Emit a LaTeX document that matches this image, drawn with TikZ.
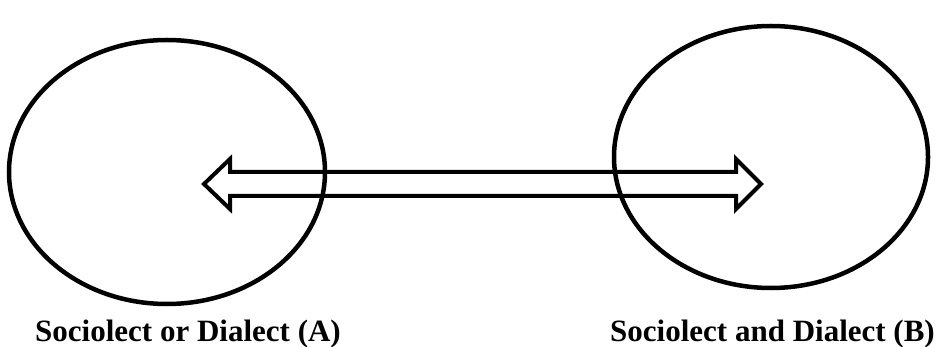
\documentclass[tikz,border=0pt]{standalone}
\usepackage{fontspec}
\setmainfont{Liberation Serif}
\newfontfamily\condbf{Liberation Serif Bold}
\usetikzlibrary{shapes.geometric}
\begin{document}
\begin{tikzpicture}[x=1pt,y=-1pt,
  oval/.style={draw, ellipse, line width=4.5pt, inner sep=0pt},
  label/.style={font=\condbf\fontsize{31}{31}\selectfont, inner sep=0pt, anchor=base west},
  dblarrow/.style={draw, line width=4pt, line join=miter}]
\useasboundingbox (0,0) rectangle (944,347);
\node[oval, minimum width=316pt, minimum height=264pt] (A) at (167,172) {};
\node[oval, minimum width=314pt, minimum height=262pt] (B) at (771,157) {};
\draw[dblarrow] (204,184) -- (230,159) -- (230,172) -- (736,172) -- (736,159)
  -- (761,184) -- (736,209) -- (736,196) -- (230,196) -- (230,209) -- cycle;
\node[label] (la) at (35,341) {Sociolect or Dialect (A)};
\node[label] (lb) at (610,341) {Sociolect and Dialect (B)};
\end{tikzpicture}
\end{document}
